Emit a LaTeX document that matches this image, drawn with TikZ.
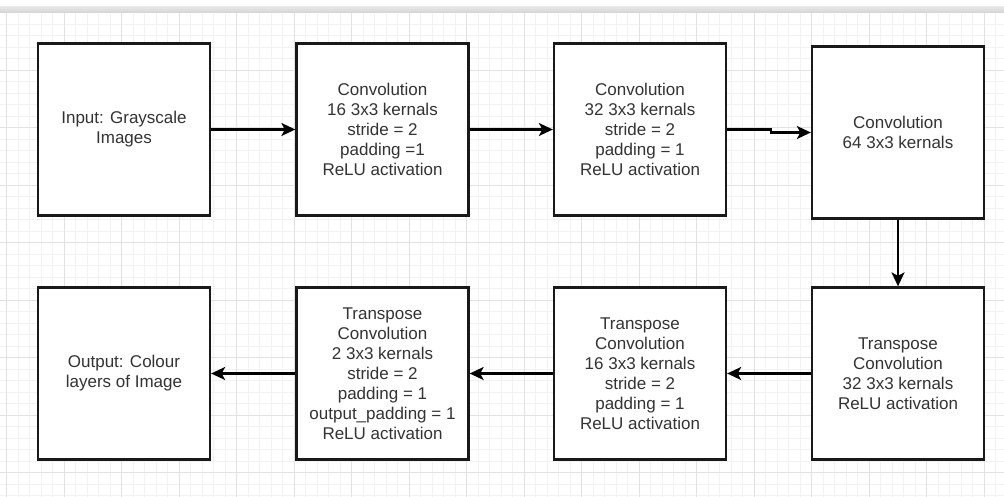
\documentclass[tikz,border=0pt]{standalone}
\usepackage{fontspec}
\setmainfont{Liberation Sans}
\usetikzlibrary{arrows.meta}
\definecolor{gridminor}{HTML}{F2F2F2}
\definecolor{gridmajor}{HTML}{E2E2E2}
\definecolor{labeltext}{HTML}{333333}
\definecolor{bandtop}{HTML}{E8E8E8}
\definecolor{bandbot}{HTML}{D4D4D4}
\tikzset{
  layerbox/.style={draw=black!90, line width=2.3pt, fill=white,
    minimum width=172pt, minimum height=172pt, inner sep=0pt,
    align=center, text=labeltext, font=\fontsize{17}{20}\selectfont},
  flow/.style={draw=black, line width=2.1pt,
    -{Stealth[length=14pt,width=13pt,inset=3.5pt]}},
}
\begin{document}
\begin{tikzpicture}[x=1pt,y=-1pt]
  \useasboundingbox (0,0) rectangle (1004,496);
  \fill[white] (0,0) rectangle (1004,496);
  % canvas grid
  \begin{scope}
    \clip (0,12.5) rectangle (1004,496);
    \foreach \i in {-1,...,88} {
      \draw[gridminor, line width=0.8pt] ({6.5+11.5*\i},12.5) -- ++(0,484);
    }
    \foreach \j in {0,...,43} {
      \draw[gridminor, line width=0.8pt] (0,{12.5+11.5*\j}) -- ++(1004,0);
    }
    \foreach \i in {0,...,18} {
      \draw[gridmajor, line width=1pt] ({6.5+57.5*\i},12.5) -- ++(0,484);
    }
    \foreach \j in {0,...,9} {
      \draw[gridmajor, line width=1pt] (0,{12.5+57.5*\j}) -- ++(1004,0);
    }
  \end{scope}
  % toolbar edge along the top
  \shade[top color=bandtop, bottom color=bandbot] (0,6.5) rectangle (1004,12.5);

  % encoder row
  \node[layerbox] (in1) at (124,129.5) {Input: Grayscale\\Images};
  \node[layerbox] (c16) at (382.5,129.5) {Convolution\\16 3x3 kernals\\stride = 2\\padding =1\\ReLU activation};
  \node[layerbox] (c32) at (640,129.5) {Convolution\\32 3x3 kernals\\stride = 2\\padding = 1\\ReLU activation};
  \node[layerbox] (c64) at (898,132.5) {Convolution\\64 3x3 kernals};

  % decoder row
  \node[layerbox] (t32) at (898,373.5) {Transpose\\Convolution\\32 3x3 kernals\\ReLU activation};
  \node[layerbox] (t16) at (640,373.5) {Transpose\\Convolution\\16 3x3 kernals\\stride = 2\\padding = 1\\ReLU activation};
  \node[layerbox] (t2) at (382.5,373.5) {Transpose\\Convolution\\2 3x3 kernals\\stride = 2\\padding = 1\\output\_padding = 1\\ReLU activation};
  \node[layerbox] (out) at (124,373.5) {Output: Colour\\layers of Image};

  % connectors
  \draw[flow] (in1) -- (c16);
  \draw[flow] (c16) -- (c32);
  \draw[flow] (c32.east) -- ++(44,0) |- (c64.west);
  \draw[flow] (c64) -- (t32);
  \draw[flow] (t32) -- (t16);
  \draw[flow] (t16) -- (t2);
  \draw[flow] (t2) -- (out);
\end{tikzpicture}
\end{document}
